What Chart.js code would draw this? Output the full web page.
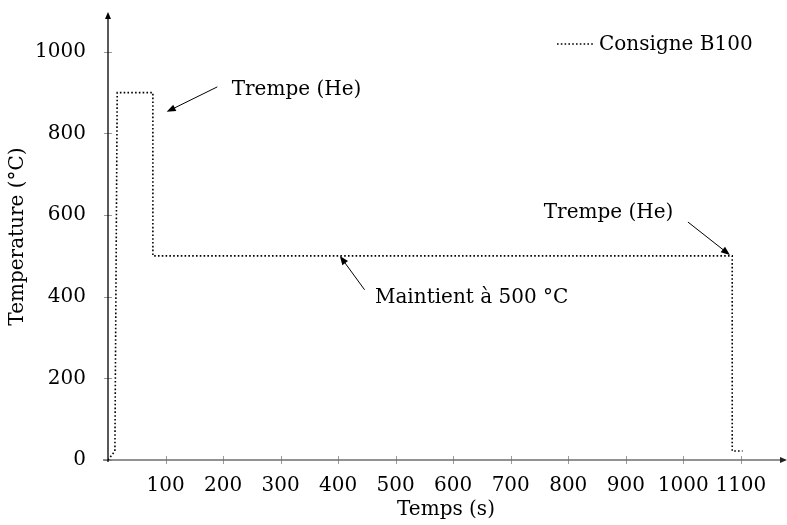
<!DOCTYPE html>
<html>
<head>
<meta charset="utf-8">
<script src="https://cdn.jsdelivr.net/npm/chart.js@4/dist/chart.umd.min.js"></script>
<style>
  html, body { margin: 0; padding: 0; background: #fff; }
</style>
</head>
<body>
<canvas id="chart" width="787" height="525"></canvas>
<script>
// consigne B100 (temps en s, température en °C)
const tempsS = [0, 12, 16, 78, 78, 1085, 1085, 1103];
const tempC = [0, 22, 900, 900, 500, 500, 22, 22];
const xTicks = [0, 100, 200, 300, 400, 500, 600, 700, 800, 900, 1000, 1100];
const yTicks = [0, 200, 400, 600, 800, 1000];

// annotations : texte, position du texte, départ et pointe de la flèche
const noteTexts = ['Trempe (He)', 'Trempe (He)', 'Maintient à 500 °C'];
const noteAt = [[215, 907], [870, 605], [464, 397]];
const noteAlign = ['left', 'center', 'left'];
const arrowFrom = [[190, 914], [1008, 583], [446, 417]];
const arrowTo = [[102, 853], [1081, 502], [403, 500]];

const FONT = '"DejaVu Serif", serif';

function arrowHead(ctx, x1, y1, x2, y2, len, half) {
    const a = Math.atan2(y2 - y1, x2 - x1);
    ctx.beginPath();
    ctx.moveTo(x2, y2);
    ctx.lineTo(x2 - len * Math.cos(a) + half * Math.sin(a), y2 - len * Math.sin(a) - half * Math.cos(a));
    ctx.lineTo(x2 - len * Math.cos(a) - half * Math.sin(a), y2 - len * Math.sin(a) + half * Math.cos(a));
    ctx.closePath();
    ctx.fill();
}

const decorations = {
    id: 'decorations',
    beforeDatasetsDraw(chart) {
        const { ctx, scales: { x, y } } = chart;
        const x0 = x.getPixelForValue(0);
        const y0 = y.getPixelForValue(0);
        ctx.save();
        // graduations
        ctx.strokeStyle = '#9a9a9a';
        ctx.lineWidth = 1;
        yTicks.forEach(v => {
            const py = Math.round(y.getPixelForValue(v)) + 0.5;
            ctx.beginPath(); ctx.moveTo(x0 - 4, py); ctx.lineTo(x0 + 4, py); ctx.stroke();
        });
        xTicks.slice(1).forEach(v => {
            const px = Math.round(x.getPixelForValue(v)) + 0.5;
            ctx.beginPath(); ctx.moveTo(px, y0 - 4); ctx.lineTo(px, y0 + 4); ctx.stroke();
        });
        // axe x
        ctx.strokeStyle = '#6e6e6e';
        ctx.fillStyle = '#222';
        ctx.lineWidth = 1.3;
        ctx.beginPath(); ctx.moveTo(x0 - 5, y0); ctx.lineTo(785, y0); ctx.stroke();
        arrowHead(ctx, 770, y0, 787, y0, 7, 3);
        // axe y
        ctx.strokeStyle = '#000';
        ctx.fillStyle = '#000';
        ctx.beginPath(); ctx.moveTo(x0, y0 + 2); ctx.lineTo(x0, 15); ctx.stroke();
        arrowHead(ctx, x0, 40, x0, 12, 7, 3);
        ctx.restore();
    },
    afterDatasetsDraw(chart) {
        const { ctx, scales: { x, y } } = chart;
        ctx.save();
        ctx.fillStyle = '#000';
        ctx.strokeStyle = '#000';
        ctx.lineWidth = 1;
        // flèches
        arrowFrom.forEach((f, i) => {
            const t = arrowTo[i];
            const x1 = x.getPixelForValue(f[0]), y1 = y.getPixelForValue(f[1]);
            const x2 = x.getPixelForValue(t[0]), y2 = y.getPixelForValue(t[1]);
            const a = Math.atan2(y2 - y1, x2 - x1);
            ctx.beginPath();
            ctx.moveTo(x1, y1);
            ctx.lineTo(x2 - 6 * Math.cos(a), y2 - 6 * Math.sin(a));
            ctx.stroke();
            arrowHead(ctx, x1, y1, x2, y2, 9, 3.5);
        });
        // textes
        ctx.font = '20px ' + FONT;
        ctx.textBaseline = 'middle';
        noteTexts.forEach((txt, i) => {
            ctx.textAlign = noteAlign[i];
            ctx.fillText(txt, x.getPixelForValue(noteAt[i][0]), y.getPixelForValue(noteAt[i][1]));
        });
        // légende
        ctx.setLineDash([1.6, 2.2]);
        ctx.lineWidth = 1.6;
        ctx.beginPath(); ctx.moveTo(557, 44); ctx.lineTo(595, 44); ctx.stroke();
        ctx.setLineDash([]);
        ctx.textAlign = 'left';
        ctx.fillText('Consigne B100', 599, 45);
        ctx.restore();
    }
};

new Chart(document.getElementById('chart'), {
    type: 'line',
    data: {
        datasets: [{
            label: 'Consigne B100',
            data: tempsS.map((t, i) => ({ x: t, y: tempC[i] })),
            borderColor: '#000',
            borderWidth: 1.6,
            borderDash: [1.6, 2.2],
            pointRadius: 0,
            fill: false,
            tension: 0
        }]
    },
    options: {
        responsive: false,
        animation: false,
        devicePixelRatio: 1,
        layout: { padding: { left: 0, right: 3, top: 13, bottom: 0 } },
        plugins: { legend: { display: false }, tooltip: { enabled: false } },
        scales: {
            x: {
                type: 'linear',
                min: 0,
                max: 1175,
                afterBuildTicks: s => { s.ticks = xTicks.map(v => ({ value: v })); },
                afterFit: s => { s.height = 65; s.paddingLeft = 0; s.paddingRight = 0; },
                grid: { display: false },
                border: { display: false },
                ticks: {
                    color: '#000',
                    padding: 6,
                    font: { family: FONT, size: 20 },
                    callback: v => (v === 0 ? '' : String(v))
                },
                title: {
                    display: true,
                    text: 'Temps (s)',
                    color: '#000',
                    font: { family: FONT, size: 20 },
                    padding: { top: 0, bottom: 3 }
                }
            },
            y: {
                min: 0,
                max: 1095,
                afterBuildTicks: s => { s.ticks = yTicks.map(v => ({ value: v })); },
                afterFit: s => { s.width = 108; s.paddingTop = 0; s.paddingBottom = 0; },
                grid: { display: false },
                border: { display: false },
                ticks: {
                    color: '#000',
                    padding: 14,
                    font: { family: FONT, size: 20 },
                    callback: v => String(v)
                },
                title: {
                    display: true,
                    text: 'Temperature (°C)',
                    color: '#000',
                    font: { family: FONT, size: 20 },
                    padding: { top: 6, bottom: 0 }
                }
            }
        }
    },
    plugins: [decorations]
});
</script>
</body>
</html>
